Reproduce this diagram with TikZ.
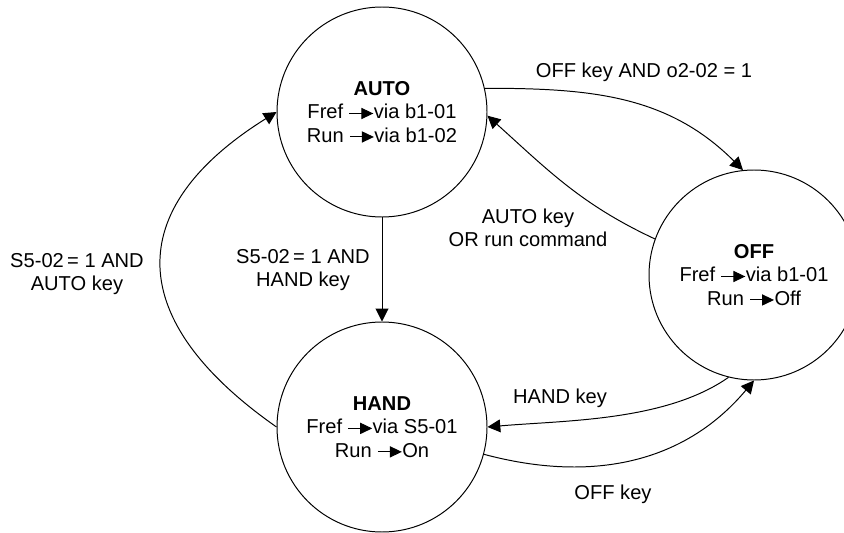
\documentclass[tikz,border=0pt]{standalone}
\usepackage{fontspec}
\setmainfont{Liberation Sans}
\usepackage{tikz}
\usetikzlibrary{arrows.meta}

% freccia piccola nel testo
\newcommand{\fwd}{\tikz[baseline=0pt]\draw[line width=0.7pt,-{Triangle[length=3mm,width=2.8mm]}] (0,0.27em) -- (0.6,0.27em);}

\begin{document}
\begin{tikzpicture}[
    font=\fontsize{14.3}{16.7}\selectfont,
    state/.style={draw, circle, line width=0.7pt, minimum size=5.25cm, inner sep=0pt, align=center},
    arr/.style={line width=0.7pt, -{Triangle[length=3.2mm,width=3.2mm]}},
    lbl/.style={align=center}
]
    % bordi
    \useasboundingbox (0,0) rectangle (21.1,13.3);

    % stati
    \node[state] (auto) at (9.55,10.5) {\textbf{AUTO}\\Fref \fwd{}via b1-01\\Run \fwd{}via b1-02};
    \node[state] (hand) at (9.55,2.625) {\textbf{HAND}\\Fref \fwd{}via S5-01\\Run \fwd{}On};
    \node[state] (off) at (18.85,6.425) {\textbf{OFF}\\Fref \fwd{}via b1-01\\Run \fwd{}Off};

    % etichette
    \node[lbl] (lofftop) at (16.1,11.5) {OFF key AND o2-02 = 1};
    \node[lbl] (lautokey) at (13.2,7.6) {AUTO key\\OR run command};
    \node[lbl] (lhandkey) at (14.0,3.35) {HAND key};
    \node[lbl] (loffkey) at (15.325,0.95) {OFF key};
    \node[lbl] (ltohand) at (7.575,6.55) {S5-02\,= 1 AND\\HAND key};
    \node[lbl] (ltoauto) at (1.925,6.45) {S5-02\,= 1 AND\\AUTO key};

    % transizioni
    \draw[arr] (auto.13) to[out=0,in=135] (off.96);
    \draw[arr] (off.160) to[out=155,in=-42] (auto.-2);
    \draw[arr] (off.-104) to[out=-145,in=5,looseness=0.8] (hand.0);
    \draw[arr] (hand.-15) to[out=-15,in=-130] (off.-90);
    \draw[arr] (auto) -- (hand);
    \draw[arr] (hand.180) to[out=145,in=-148,looseness=1.5] (auto.180);
\end{tikzpicture}
\end{document}
